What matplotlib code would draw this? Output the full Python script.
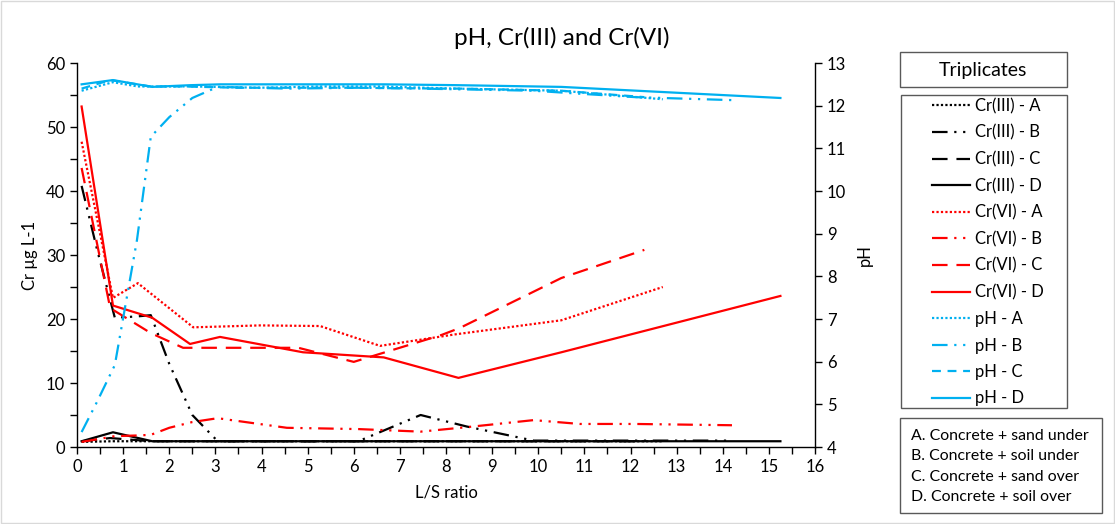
import matplotlib
matplotlib.use("Agg")
import matplotlib.pyplot as plt
from matplotlib.patches import Rectangle

plt.rcParams['font.family'] = ['Lato', 'DejaVu Sans']

RED = '#FF0000'
BLUE = '#00B0F0'
BLACK = '#000000'

# ---- data: L/S ratio (x) and values ----
xA = [0.1, 0.78, 1.32, 2.52, 3.97, 5.27, 6.57, 8.2, 10.5, 12.7]
xB = [0.1, 0.43, 0.82, 1.3, 1.6, 2.0, 2.5, 3.05, 4.55, 6.1, 7.45, 8.45, 9.9, 10.9, 12.1, 14.2]
xC = [0.1, 0.72, 1.6, 2.3, 3.5, 4.8, 6.0, 7.9, 8.3, 10.5, 12.3]
xD = [0.1, 0.78, 1.63, 2.45, 3.1, 4.9, 6.65, 8.27, 10.5, 15.25]

cr3_A = [0.8, 0.9, 0.9, 0.9, 0.9, 0.9, 0.9, 0.9, 0.9, 0.9]
cr3_B = [40.8, 31.0, 20.2, 20.4, 20.6, 13.0, 5.0, 0.9, 0.9, 0.9, 5.0, 3.2, 1.0, 1.0, 1.0, 1.0]
cr3_C = [0.9, 1.4, 0.9, 0.9, 0.9, 0.9, 0.9, 0.9, 0.9, 0.9, 0.9]
cr3_D = [0.9, 2.3, 0.9, 0.9, 0.9, 0.9, 0.9, 0.9, 0.9, 0.9]

cr6_A = [47.7, 23.3, 25.6, 18.7, 19.0, 18.9, 15.8, 17.6, 19.8, 25.0]
cr6_B = [0.8, 1.2, 1.7, 1.8, 1.9, 3.0, 3.9, 4.5, 3.0, 2.8, 2.4, 3.1, 4.2, 3.6, 3.6, 3.4]
cr6_C = [43.6, 21.7, 17.8, 15.5, 15.5, 15.5, 13.3, 17.5, 18.6, 26.4, 30.8]
cr6_D = [53.2, 22.1, 20.2, 16.1, 17.2, 14.8, 14.0, 10.8, 14.8, 23.6]

ph_A = [12.35, 12.55, 12.45, 12.45, 12.42, 12.45, 12.45, 12.4, 12.35, 12.15]
ph_B = [4.35, 5.05, 5.92, 8.85, 11.27, 11.73, 12.18, 12.44, 12.4, 12.42, 12.4, 12.38, 12.35, 12.28, 12.2, 12.13]
ph_C = [12.4, 12.6, 12.45, 12.45, 12.42, 12.42, 12.42, 12.4, 12.4, 12.35, 12.2]
ph_D = [12.5, 12.6, 12.44, 12.48, 12.5, 12.5, 12.5, 12.48, 12.44, 12.18]

labels = ['Cr(III) - A', 'Cr(III) - B', 'Cr(III) - C', 'Cr(III) - D',
          'Cr(VI) - A', 'Cr(VI) - B', 'Cr(VI) - C', 'Cr(VI) - D',
          'pH - A', 'pH - B', 'pH - C', 'pH - D']
notes = ['A. Concrete + sand under', 'B. Concrete + soil under',
         'C. Concrete + sand over', 'D. Concrete + soil over']

ls_A = (0, (1, 1))
ls_B = (0, (7, 3, 1, 3, 1, 3))
ls_C = (0, (7, 4))
ls_D = '-'
ls_pC = (0, (4, 3))

fig = plt.figure(figsize=(11.15, 5.24), dpi=100)
ax = fig.add_axes([77/1115, 1-447/524, (815-77)/1115, (447-63)/524])
ax2 = ax.twinx()

lw = 1.6
h = []
h += ax.plot(xA, cr3_A, color=BLACK, ls=ls_A, lw=lw)
h += ax.plot(xB, cr3_B, color=BLACK, ls=ls_B, lw=lw)
h += ax.plot(xC, cr3_C, color=BLACK, ls=ls_C, lw=lw)
h += ax.plot(xD, cr3_D, color=BLACK, ls=ls_D, lw=lw)
h += ax.plot(xA, cr6_A, color=RED, ls=ls_A, lw=lw)
h += ax.plot(xB, cr6_B, color=RED, ls=ls_B, lw=lw)
h += ax.plot(xC, cr6_C, color=RED, ls=ls_C, lw=lw)
h += ax.plot(xD, cr6_D, color=RED, ls=ls_D, lw=lw)
h += ax2.plot(xA, ph_A, color=BLUE, ls=ls_A, lw=lw)
h += ax2.plot(xB, ph_B, color=BLUE, ls=ls_B, lw=lw)
h += ax2.plot(xC, ph_C, color=BLUE, ls=ls_pC, lw=lw)
h += ax2.plot(xD, ph_D, color=BLUE, ls=ls_D, lw=lw)

ax.set_xlim(0, 16)
ax.set_ylim(0, 60)
ax2.set_ylim(4, 13)
ax.set_xticks(range(0, 17))
ax.set_xticks([i + 0.5 for i in range(16)], minor=True)
ax.set_yticks(range(0, 61, 10))
ax.set_yticks(range(5, 60, 10), minor=True)
ax2.set_yticks(range(4, 14))

for a in (ax, ax2):
    a.spines['top'].set_visible(False)
    for s in a.spines.values():
        s.set_linewidth(1.0)
        s.set_color('#000000')
ax.spines['right'].set_visible(False)
ax2.spines['left'].set_visible(False)
ax2.spines['bottom'].set_visible(False)

ax.tick_params(axis='both', which='both', direction='out', length=5, width=1, labelsize=12)
ax2.tick_params(axis='y', which='both', direction='out', length=5, width=1, labelsize=12)

ax.set_xlabel('L/S ratio', fontsize=12, labelpad=7)
ax.set_ylabel('Cr µg L-1', fontsize=12, labelpad=6)
ax2.set_ylabel('pH', fontsize=12, labelpad=8)

fig.text(562/1115, 1-38/524, 'pH, Cr(III) and Cr(VI)', fontsize=17.5, ha='center', va='center')

# Legend boxes
fig.patches.append(Rectangle((900/1115, 1-87/524), 167/1115, 35/524, transform=fig.transFigure,
                             fill=False, edgecolor='#595959', lw=1))
fig.text(983/1115, 1-70/524, 'Triplicates', fontsize=14, ha='center', va='center')

fig.patches.append(Rectangle((901/1115, 1-408/524), 166/1115, 313/524, transform=fig.transFigure,
                             fill=False, edgecolor='#595959', lw=1))
leg = fig.legend(h, labels, loc='upper left', bbox_to_anchor=(932/1115, 1-98/524),
                 frameon=False, fontsize=12, handlelength=2.3, handletextpad=0.3,
                 labelspacing=0.63, borderpad=0, borderaxespad=0)

fig.patches.append(Rectangle((900/1115, 1-513/524), 202/1115, 95/524, transform=fig.transFigure,
                             fill=False, edgecolor='#595959', lw=1))
for i, t in enumerate(notes):
    fig.text(911/1115, 1-(436 + i*20.3)/524, t, fontsize=11.4, ha='left', va='center')

# outer chart border
fig.patches.append(Rectangle((0.001, 0.001), 0.998, 0.998, transform=fig.transFigure,
                             fill=False, edgecolor='#D9D9D9', lw=1))

fig.savefig('out.png', dpi=100)
